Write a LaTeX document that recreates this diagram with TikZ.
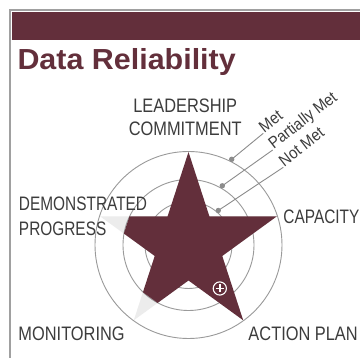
\documentclass[tikz,border=0pt]{standalone}
\usepackage{fontspec}
\setmainfont{Liberation Sans}
\newfontfamily\labfont[FakeStretch=0.84]{Liberation Sans}
\newfontfamily\labfontn[FakeStretch=0.79]{Liberation Sans}
\newfontfamily\smfont[FakeStretch=0.9]{Liberation Sans}
\newfontfamily\ttlfont[FakeStretch=1.05]{Liberation Sans}
\usetikzlibrary{calc}
\definecolor{maroon}{HTML}{632F3B}
\definecolor{labgray}{HTML}{3C3C3C}
\definecolor{ringgray}{HTML}{9A9A9A}
\definecolor{dotgray}{HTML}{8C8C8C}
\definecolor{shadegray}{HTML}{ECECEC}
\definecolor{framegray}{HTML}{A0A0A0}
\tikzset{
  biglabel/.style={inner sep=0pt, text=labgray, font=\labfont\fontsize{19.5}{23.4}\selectfont},
  ring/.style={draw=ringgray, line width=0.9pt},
  rdot/.style={circle, fill=dotgray, inner sep=0pt, minimum size=5.4pt},
  callout/.style={draw=dotgray, line width=0.9pt},
  ratelabel/.style={inner sep=0pt, text=labgray, rotate=38, anchor=base west, font=\smfont\fontsize{16.5}{16.5}\selectfont}
}
\begin{document}
\begin{tikzpicture}[x=1pt,y=-1pt]
\useasboundingbox (0,0) rectangle (360,358);
\fill[white] (0,0) rectangle (360,358);
% frame
\fill[framegray] (9,9) rectangle (360,11);
\fill[framegray] (9,9) rectangle (11,358);
\fill[maroon] (12,12) rectangle (360,40);
% title
\node[anchor=base west, inner sep=0pt, text=maroon, font=\ttlfont\bfseries\fontsize{29}{29}\selectfont] (title) at (17.3,69.3) {Data Reliability};

\coordinate (c) at (188.5,245);
\begin{scope}[shift={(188.5,245)}, yscale=-1]
  \coordinate (t90) at (90:93);
  \coordinate (t18) at (18:93);
  \coordinate (tm54) at (-54:93);
  \coordinate (t234) at (234:93);
  \coordinate (t162) at (162:93);
  \coordinate (v54) at (54:35.5);
  \coordinate (vm18) at (-18:35.5);
  \coordinate (vm90) at (-90:35.5);
  \coordinate (v198) at (198:35.5);
  \coordinate (v126) at (126:35.5);
\end{scope}
% light full star
\fill[shadegray] (t90) -- (v54) -- (t18) -- (vm18) -- (tm54) -- (vm90) -- (t234) -- (v198) -- (t162) -- (v126) -- cycle;
% rings
\draw[ring] (c) circle[radius=93.5pt];
\draw[ring] (c) circle[radius=65.5pt];
\draw[ring] (c) circle[radius=43.5pt];
% dark star, two arms cut at the middle ring
\fill[maroon] (t90) -- (v54) -- (t18) -- (vm18) -- (tm54) -- (vm90)
  -- ($(t234)!0.4355!(vm90)$) -- ($(t234)!0.4355!(v198)$) -- (v198)
  -- ($(t162)!0.4355!(v198)$) -- ($(t162)!0.4355!(v126)$) -- (v126) -- cycle;
% plus icon
\coordinate (plus) at (219.8,288.5);
\draw[white, line width=1.1pt] (plus) circle[radius=6.6pt];
\draw[white, line width=1.9pt] ($(plus)+(-4,0)$) -- ($(plus)+(4,0)$);
\draw[white, line width=1.9pt] ($(plus)+(0,-4)$) -- ($(plus)+(0,4)$);

% callouts
\node[rdot] (dmet) at (231.7,159.3) {};
\node[rdot] (dpart) at (222.3,185.8) {};
\node[rdot] (dnot) at (218.3,210.5) {};
\coordinate (emet) at (263.3,133.3);
\coordinate (epart) at (272.7,150);
\coordinate (enot) at (283.3,167.3);
\draw[callout] (dmet.center) -- (emet);
\draw[callout] (dpart.center) -- (epart);
\draw[callout] (dnot.center) -- (enot);
\node[ratelabel] (lmet) at ($(emet)+(1,0)$) {Met};
\node[ratelabel] (lpart) at ($(epart)+(1,0)$) {Partially Met};
\node[ratelabel] (lnot) at ($(enot)+(1,0)$) {Not Met};

% labels
\node[biglabel, anchor=north, align=center] (lead) at (185.2,98.3) {LEADERSHIP\\COMMITMENT};
\node[biglabel, anchor=north west, align=left, font=\labfontn\fontsize{19.5}{25.3}\selectfont] (demo) at (18.8,196.7) {DEMONSTRATED\\PROGRESS};
\node[biglabel, anchor=base west, font=\labfontn\fontsize{19.5}{23.4}\selectfont] (capa) at (283.3,224) {CAPACITY};
\node[biglabel, anchor=base west] (moni) at (18.3,340.7) {MONITORING};
\node[biglabel, anchor=base west] (actn) at (248.3,340.7) {ACTION PLAN};
\end{tikzpicture}
\end{document}
